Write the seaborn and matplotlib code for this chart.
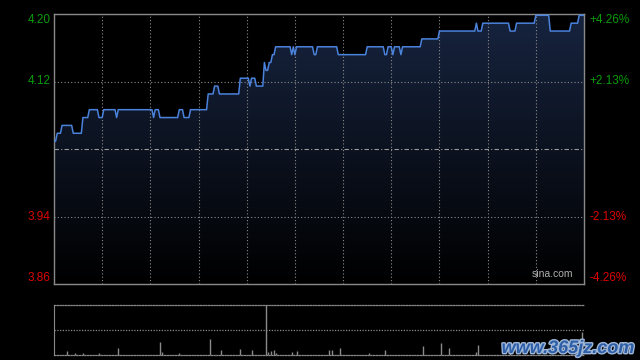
import matplotlib
matplotlib.use("Agg")
import matplotlib.pyplot as plt
import matplotlib.patheffects as pe
import numpy as np
import pandas as pd
import seaborn as sns

# price data: minute of session where the price changes, and the new price
chg_min = [0, 2, 5, 12, 18, 22, 28, 31, 39, 40, 62, 63, 66, 78, 81, 85, 96, 100, 103, 116,
           122, 123, 126, 131, 132, 134, 136, 138, 148, 149, 150, 151, 162, 164, 177, 195,
           206, 208, 211, 212, 216, 217, 229, 240, 263, 264, 267, 284, 288, 300, 309, 322, 327]
chg_px = [4.04, 4.05, 4.06, 4.05, 4.07, 4.08, 4.07, 4.08, 4.07, 4.08, 4.07, 4.08, 4.07, 4.08,
          4.07, 4.08, 4.10, 4.11, 4.10, 4.12, 4.11, 4.12, 4.11, 4.14, 4.13, 4.14, 4.15, 4.16,
          4.15, 4.16, 4.15, 4.16, 4.15, 4.16, 4.15, 4.16, 4.15, 4.16, 4.15, 4.16, 4.15, 4.16,
          4.17, 4.18, 4.19, 4.18, 4.19, 4.18, 4.19, 4.20, 4.18, 4.19, 4.20]
prev_close = 4.03
pct_range = 0.0426
total_min = 330

# volume (share of panel height) at selected minutes
vol_min = [8, 13, 18, 28, 40, 66, 67, 78, 97, 104, 116, 123, 132, 133, 135, 137, 138, 148, 151,
           171, 173, 178, 196, 206, 230, 241, 246, 263, 264, 284, 329]
vol_val = [0.08, 0.03, 0.03, 0.03, 0.13, 0.26, 0.05, 0.03, 0.32, 0.10, 0.12, 0.09, 1.0, 0.06,
           0.08, 0.10, 0.03, 0.06, 0.08, 0.09, 0.09, 0.13, 0.03, 0.09, 0.17, 0.23, 0.13, 0.05,
           0.19, 0.08, 0.45]

# hold each price until the next change
minutes = np.arange(total_min + 1)
idx = np.searchsorted(chg_min, minutes, side="right") - 1
price = np.array(chg_px)[idx]
df = pd.DataFrame({"minute": minutes, "price": price})

sns.set_style("dark")
plt.rcParams["font.family"] = ["Liberation Sans", "DejaVu Sans"]

fig = plt.figure(figsize=(6.4, 3.6), dpi=100, facecolor="black")
ax = fig.add_axes([54 / 640, 1 - 284 / 360, 530 / 640, 270 / 360])
vax = fig.add_axes([54 / 640, 1 - 354.7 / 360, 530 / 640, 50 / 360])

lo = prev_close * (1 - pct_range)
hi = prev_close * (1 + pct_range)
q1 = prev_close * (1 - pct_range / 2)
q3 = prev_close * (1 + pct_range / 2)

ax.set_facecolor("black")
ax.set_xlim(0, total_min)
ax.set_ylim(lo, hi)

# gradient fill under the line
grad = np.linspace(1, 0, 256).reshape(-1, 1)
cmap = matplotlib.colors.LinearSegmentedColormap.from_list("g", ["#000000", "#17243f"])
im = ax.imshow(grad, cmap=cmap, vmin=0, vmax=1, aspect="auto",
               extent=[0, total_min, lo, hi], origin="upper", zorder=1)
poly = ax.fill_between(df["minute"], lo, df["price"], color="none", lw=0)
im.set_clip_path(poly.get_paths()[0], transform=ax.transData)

# grid
grid_kw = dict(color="#8c8c8c", lw=0.8, linestyle=(0, (1, 2)), zorder=2)
for y in [q1, q3]:
    ax.axhline(y, **grid_kw)
for k in range(1, 11):
    ax.axvline(k * 30, **grid_kw)
ax.axhline(prev_close, color="#9a9a9a", lw=0.8, linestyle=(0, (4, 2, 1, 2)), zorder=2)

sns.lineplot(data=df, x="minute", y="price", ax=ax, color="#4a82dc", lw=1.1, zorder=3)

ax.set_xticks([])
ax.set_yticks([])
ax.set_xlabel("")
ax.set_ylabel("")
for s in ax.spines.values():
    s.set_color("#8a8a8a")
    s.set_linewidth(1)

# axis labels
green, red = "#0a9a0a", "#dd0000"
ytf = ax.get_yaxis_transform()
left_labels = [(hi, f"{hi:.2f}", green, "top"), (q3, f"{q3:.2f}", green, "center"),
               (q1, f"{q1:.2f}", red, "center"), (lo, f"{lo:.2f}", red, "bottom")]
for y, t, c, va in left_labels:
    ax.text(-0.006, y, t, transform=ytf, ha="right", va=va, color=c, fontsize=8.5)
right_labels = [(hi, f"+{pct_range * 100:.2f}%", green, "top"),
                (q3, f"+{pct_range * 50:.2f}%", green, "center"),
                (q1, f"-{pct_range * 50:.2f}%", red, "center"),
                (lo, f"-{pct_range * 100:.2f}%", red, "bottom")]
for y, t, c, va in right_labels:
    ax.text(1.011, y, t, transform=ytf, ha="left", va=va, color=c, fontsize=8.5)
ax.text(0.979, 0.018, "sina.com", transform=ax.transAxes, ha="right", va="bottom",
        color="#b0b0b0", fontsize=7.5, zorder=4)

# volume panel
vax.set_facecolor("black")
vax.set_xlim(0, total_min)
vax.set_ylim(0, 1)
vax.vlines(vol_min, 0, vol_val, color="#8a8a8a", lw=1)
vax.axhline(0.5, color="#8c8c8c", lw=0.9, linestyle=(0, (1, 1.2)))
vax.set_xticks([])
vax.set_yticks([])
for name, s in vax.spines.items():
    s.set_color("#8a8a8a")
    if name in ("top", "bottom"):
        s.set_linestyle((0, (1, 1.2)))
        s.set_linewidth(0.9)
    elif name == "right":
        s.set_visible(False)

fig.text(634 / 640, 1 - 357 / 360, "www.365jz.com", ha="right", va="bottom",
         color="#2d5fa8", fontsize=13, fontweight="bold", style="italic",
         path_effects=[pe.withStroke(linewidth=2, foreground="#9fb6d6")])

fig.savefig("out.png", dpi=100, facecolor="black")
